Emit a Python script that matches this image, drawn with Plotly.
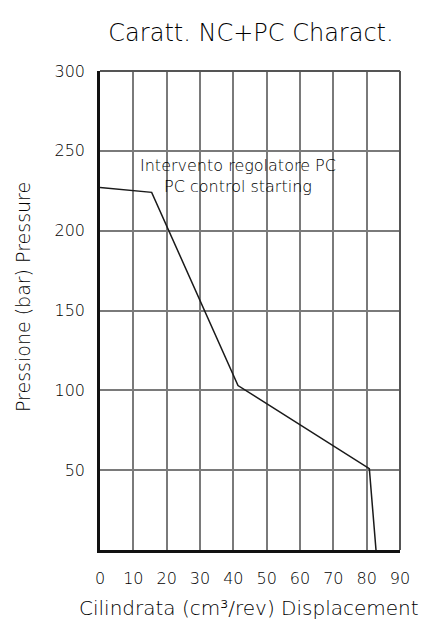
import plotly.graph_objects as go

# Displacement (cm3/rev) vs pressure (bar) for the NC+PC characteristic
displacement = [0, 15.5, 41.4, 80.8, 82.8]
pressure = [227, 224, 103, 51, 0]

x_ticks = [0, 10, 20, 30, 40, 50, 60, 70, 80, 90]
y_ticks = [50, 100, 150, 200, 250, 300]

FONT = "DejaVu Sans"
WEIGHT = 200
INK = "#000000"
GRID = "#7a7a7a"


def f(size):
    return dict(family=FONT, size=size, color=INK, weight=WEIGHT)


fig = go.Figure()
fig.add_trace(go.Scatter(
    x=displacement, y=pressure, mode="lines",
    line=dict(color="#1a1a1a", width=1.5),
    showlegend=False, hoverinfo="skip",
))

fig.update_layout(
    width=427, height=619,
    margin=dict(l=100, r=27, t=71, b=69),
    paper_bgcolor="white", plot_bgcolor="white",
    font=f(16),
    title=dict(text="Caratt. NC+PC Charact.", x=251 / 427, xanchor="center",
               y=1 - 33 / 619, yanchor="middle", font=f(24)),
)

fig.update_xaxes(
    range=[0, 90], tickvals=x_ticks, ticktext=[str(v) for v in x_ticks],
    showgrid=True, gridcolor=GRID, gridwidth=1.5,
    showline=True, linecolor="#111111", linewidth=2.5,
    ticks="", ticklabelstandoff=12, zeroline=False,
    tickfont=f(16),
)
fig.update_yaxes(
    range=[0, 300], tickvals=y_ticks, ticktext=[str(v) for v in y_ticks],
    showgrid=True, gridcolor=GRID, gridwidth=1.5,
    showline=True, linecolor="#111111", linewidth=2.5,
    ticks="", ticklabelstandoff=9, zeroline=False,
    tickfont=f(16),
)

# top and right frame edges
fig.add_shape(type="line", xref="paper", yref="paper", x0=0, x1=1, y0=1, y1=1,
              line=dict(color="#555555", width=2))
fig.add_shape(type="line", xref="paper", yref="paper", x0=1, x1=1, y0=0, y1=1,
              line=dict(color="#555555", width=2))

# axis titles
fig.add_annotation(text="Cilindrata (cm³/rev) Displacement", xref="paper", yref="paper",
                   x=(249 - 100) / 300, y=-(608 - 550) / 479, xanchor="center", yanchor="middle",
                   showarrow=False, font=f(20))
fig.add_annotation(text="Pressione (bar) Pressure", xref="paper", yref="paper",
                   x=(23 - 100) / 300, y=(550 - 297) / 479, xanchor="center", yanchor="middle",
                   textangle=-90, showarrow=False, font=f(19))

# PC regulator onset label
fig.add_annotation(text="Intervento regolatore PC<br>PC control starting",
                   x=41.4, y=234, xanchor="center", yanchor="middle", align="center",
                   showarrow=False, font=f(16))

fig.write_html("out.html")
